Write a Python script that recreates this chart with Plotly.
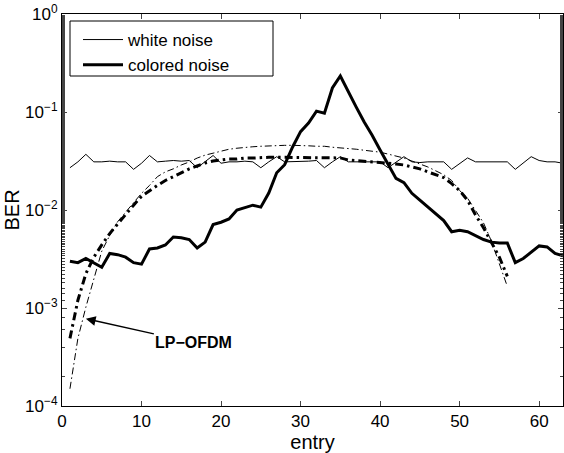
import plotly.graph_objects as go

# ---------------- data ----------------
entry = list(range(1, 64))
white_noise = [
    0.027, 0.031, 0.037, 0.031, 0.031, 0.0315, 0.031, 0.031,
    0.026, 0.030, 0.036, 0.031, 0.0315, 0.032, 0.0315, 0.032,
    0.027, 0.031, 0.036, 0.030, 0.031, 0.031, 0.0315, 0.031,
    0.027, 0.031, 0.035, 0.031, 0.031, 0.031, 0.0315, 0.032,
    0.027, 0.031, 0.035, 0.031, 0.031, 0.031, 0.031, 0.031,
    0.027, 0.031, 0.035, 0.031, 0.0305, 0.031, 0.031, 0.031,
    0.026, 0.030, 0.034, 0.031, 0.031, 0.031, 0.0315, 0.031,
    0.026, 0.030, 0.035, 0.032, 0.031, 0.031, 0.030,
]
colored_noise = [
    0.0030, 0.0029, 0.0032, 0.0029, 0.0026, 0.0036, 0.0035, 0.0033, 0.0029, 0.0028,
    0.0040, 0.0041, 0.0044, 0.0053, 0.0052, 0.0050, 0.0041, 0.0047, 0.0071, 0.0075,
    0.0081, 0.0100, 0.0105, 0.0112, 0.0107, 0.0149, 0.024, 0.029, 0.044, 0.063,
    0.077, 0.102, 0.097, 0.176, 0.233, 0.160, 0.112, 0.079, 0.058, 0.041,
    0.029, 0.021, 0.019, 0.0148, 0.0126, 0.0107, 0.0093, 0.0078, 0.0060, 0.0062,
    0.0060, 0.0055, 0.0050, 0.0047, 0.0046, 0.0046, 0.0029, 0.0032, 0.0037, 0.0043,
    0.0042, 0.0036, 0.0034,
]

lp_entry = list(range(1, 57))
lp_white = [
    0.00015, 0.00049, 0.00102, 0.0020, 0.0038, 0.0055, 0.0076, 0.0095, 0.0120, 0.0148,
    0.0178, 0.0219, 0.0245, 0.0263, 0.0288, 0.0309, 0.0339, 0.0363, 0.0380, 0.0398,
    0.0417, 0.0427, 0.0437, 0.0442, 0.0447, 0.0452, 0.0457, 0.0457, 0.0457, 0.0457,
    0.0452, 0.0447, 0.0447, 0.0437, 0.0432, 0.0427, 0.0417, 0.0407, 0.0398, 0.0389,
    0.0372, 0.0355, 0.0339, 0.0316, 0.0295, 0.0275, 0.0251, 0.0229, 0.0200, 0.0158,
    0.0132, 0.0100, 0.0074, 0.0048, 0.0028, 0.00166,
]
lp_colored = [
    0.00049, 0.0012, 0.00224, 0.0033, 0.0044, 0.00575, 0.0072, 0.0091, 0.0112, 0.0138,
    0.0158, 0.0178, 0.0200, 0.0219, 0.0240, 0.0263, 0.0282, 0.0302, 0.0316, 0.0324,
    0.0331, 0.0331, 0.0339, 0.0339, 0.0345, 0.0345, 0.0345, 0.0345, 0.0345, 0.0345,
    0.0345, 0.0340, 0.0340, 0.0340, 0.0340, 0.0324, 0.0320, 0.0316, 0.0312, 0.0309,
    0.0300, 0.0295, 0.0288, 0.0275, 0.0263, 0.0245, 0.0229, 0.0214, 0.0186, 0.0158,
    0.0126, 0.0089, 0.0066, 0.0047, 0.0033, 0.0021,
]

x_ticks = [0, 10, 20, 30, 40, 50, 60]
y_ticks = [1e-4, 1e-3, 1e-2, 1e-1, 1]
y_ticktext = ["10<sup>−4</sup>", "10<sup>−3</sup>", "10<sup>−2</sup>",
              "10<sup>−1</sup>", "10<sup>0</sup>"]

FONT = "Liberation Sans, Arial, Helvetica, sans-serif"

fig = go.Figure()
fig.add_trace(go.Scatter(x=entry, y=white_noise, mode="lines", name="white noise",
                         line=dict(color="black", width=1)))
fig.add_trace(go.Scatter(x=entry, y=colored_noise, mode="lines", name="colored noise",
                         line=dict(color="black", width=3)))
fig.add_trace(go.Scatter(x=lp_entry, y=lp_white, mode="lines", showlegend=False,
                         line=dict(color="black", width=1, dash="7px,3px,1.5px,3px")))
fig.add_trace(go.Scatter(x=lp_entry, y=lp_colored, mode="lines", showlegend=False,
                         line=dict(color="black", width=3, dash="8px,4px,2.5px,4px")))

fig.add_annotation(x=3.0, y=-3.11, xref="x", yref="y", text="<b>LP−OFDM</b>",
                   showarrow=True, ax=108, ay=24, arrowhead=2, arrowsize=1.3,
                   arrowwidth=1.5, arrowcolor="black",
                   font=dict(family=FONT, size=16, color="black"))

# legend frame
fig.add_shape(type="rect", xref="paper", yref="paper",
              x0=8 / 501, x1=211 / 501, y0=1 - 62 / 392, y1=1 - 7 / 392,
              line=dict(color="black", width=1), fillcolor="white", layer="below")

fig.update_layout(
    width=564, height=453,
    margin=dict(l=62, r=1, t=14, b=47),
    paper_bgcolor="white", plot_bgcolor="white",
    font=dict(family=FONT, size=17, color="black"),
    showlegend=True,
    legend=dict(x=16 / 501, y=1 - 8 / 392, xanchor="left", yanchor="top",
                bgcolor="rgba(0,0,0,0)", borderwidth=0, itemwidth=40,
                font=dict(family=FONT, size=17, color="black")),
    xaxis=dict(range=[0, 63], tickvals=x_ticks, ticks="inside", ticklen=5,
               showline=True, linecolor="black", linewidth=1, mirror="ticks",
               showgrid=False, zeroline=False,
               title=dict(text="entry", standoff=1),
               tickfont=dict(size=17)),
    yaxis=dict(type="log", range=[-4, 0], tickvals=y_ticks, ticktext=y_ticktext,
               ticks="inside", ticklen=5, showline=True, linecolor="black",
               linewidth=1, mirror="ticks", showgrid=False, zeroline=False,
               minor=dict(ticks="inside", ticklen=3, showgrid=False),
               title=dict(text="BER", standoff=0),
               tickfont=dict(size=17)),
)

fig.write_html("out.html")
